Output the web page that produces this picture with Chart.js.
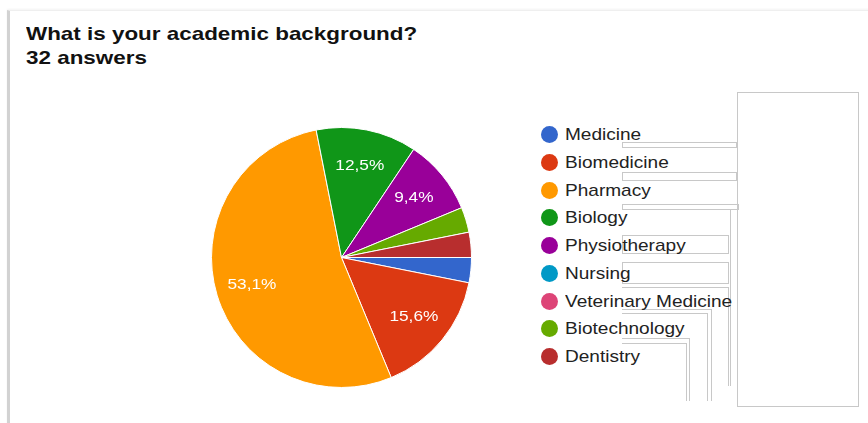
<!DOCTYPE html>
<html>
<head>
<meta charset="utf-8">
<script src="https://cdn.jsdelivr.net/npm/chart.js@4.4.1/dist/chart.umd.min.js"></script>
<style>
  html, body { margin:0; padding:0; background:#fff; width:868px; height:423px; overflow:hidden; font-family:"Liberation Sans", Arial, sans-serif; }
  #card { position:absolute; left:7px; top:10px; width:870px; height:430px; border-left:3px solid #d2d2d2; border-top:1px solid #efefef; box-shadow:0 -1px 2px rgba(0,0,0,0.05); }
  #title { position:absolute; left:26px; top:22px; font-weight:bold; font-size:19px; line-height:24px; color:#111; transform:scaleX(1.18); transform-origin:left top; white-space:nowrap; }
  #chartBox { position:absolute; left:211px; top:127px; width:261px; height:261px; }
  #legend { position:absolute; left:0; top:0; }
  .row { position:absolute; left:540px; height:20px; font-size:17px; color:#222; white-space:nowrap; }
  .dot { position:absolute; left:1px; top:1px; width:17px; height:17px; border-radius:50%; }
  .lbl { position:absolute; left:25px; top:0; line-height:20px; transform:scaleX(1.12); transform-origin:left center; }
  .box { position:absolute; border:1px solid #c8c8c8; background:transparent; }
  .ell { position:absolute; border-top:1px solid #c8c8c8; border-right:1px solid #c8c8c8; }
</style>
</head>
<body>
<div id="card"></div>
<div id="title">What is your academic background?<br>32 answers</div>
<div id="chartBox"><canvas id="c"></canvas></div>
<div class="box" style="left:737px; top:92px; width:120px; height:313px;"></div>
<div class="box" style="left:622px; top:142px; width:113px; height:4px;"></div>
<div class="box" style="left:622px; top:172px; width:113px; height:7px;"></div>
<div class="box" style="left:622px; top:204px; width:115px; height:4px;"></div>
<div class="box" style="left:622px; top:235px; width:105px; height:17px;"></div>
<div class="box" style="left:622px; top:262px; width:105px; height:20px;"></div>
<div class="ell" style="left:622px; top:209px; width:108px; height:176px;"></div>
<div class="ell" style="left:622px; top:287px; width:106px; height:98px;"></div>
<div class="ell" style="left:622px; top:309px; width:89px; height:91px;"></div>
<div class="ell" style="left:622px; top:313px; width:85px; height:87px;"></div>
<div class="ell" style="left:622px; top:338px; width:67px; height:62px;"></div>
<div class="ell" style="left:622px; top:343px; width:64px; height:57px;"></div>
<div id="legend"></div>
<script>
const categories = ["Medicine","Biomedicine","Pharmacy","Biology","Physiotherapy","Nursing","Veterinary Medicine","Biotechnology","Dentistry"];
const answers = [1, 5, 17, 4, 3, 0, 0, 1, 1];
const colors = ["#3366cc","#dc3912","#ff9900","#109618","#990099","#0099c6","#dd4477","#66aa00","#b82e2e"];
const total = answers.reduce((a,b)=>a+b,0);

// HTML legend
const legend = document.getElementById('legend');
categories.forEach((name, i) => {
  const row = document.createElement('div');
  row.className = 'row';
  row.style.top = (125 + i*27.75) + 'px';
  row.innerHTML = '<span class="dot" style="background:'+colors[i]+'"></span><span class="lbl">'+name+'</span>';
  legend.appendChild(row);
});

const pctLabels = {
  id: 'pctLabels',
  afterDatasetsDraw(chart) {
    const ctx = chart.ctx;
    const meta = chart.getDatasetMeta(0);
    meta.data.forEach((arc, i) => {
      const v = answers[i];
      const pct = v / total * 100;
      if (pct < 5) return;
      const mid = (arc.startAngle + arc.endAngle) / 2;
      const r = arc.outerRadius * 0.72;
      const x = arc.x + Math.cos(mid) * r;
      const y = arc.y + Math.sin(mid) * r;
      ctx.save();
      ctx.translate(x, y);
      ctx.scale(1.15, 1);
      ctx.fillStyle = '#ffffff';
      ctx.font = '15px "Liberation Sans", Arial, sans-serif';
      ctx.textAlign = 'center';
      ctx.textBaseline = 'middle';
      ctx.fillText(pct.toFixed(1).replace('.', ',') + '%', 0, 0);
      ctx.restore();
    });
  }
};

new Chart(document.getElementById('c'), {
  type: 'pie',
  data: {
    labels: categories,
    datasets: [{ data: answers, backgroundColor: colors, borderColor: '#ffffff', borderWidth: 1 }]
  },
  options: {
    responsive: true,
    maintainAspectRatio: false,
    animation: false,
    rotation: 90,
    layout: { padding: 0 },
    plugins: { legend: { display: false }, tooltip: { enabled: false } }
  },
  plugins: [pctLabels]
});
</script>
</body>
</html>
